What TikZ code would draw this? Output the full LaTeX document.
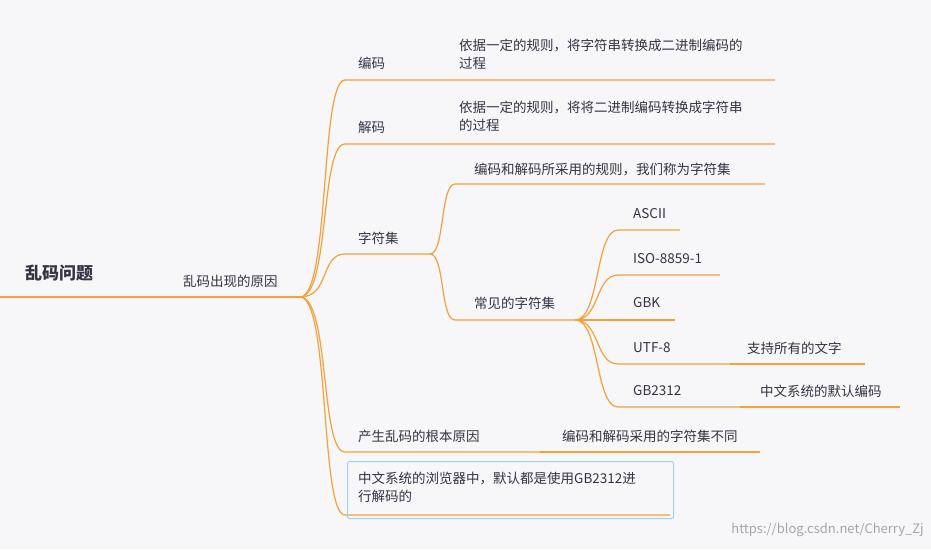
\documentclass[tikz,border=0pt]{standalone}
\usepackage{fontspec}
\setmainfont{Noto Sans CJK SC}
\definecolor{bg}{HTML}{F7F7F9}
\definecolor{br}{HTML}{F5A03A}
\definecolor{tx}{HTML}{333344}
\definecolor{bx}{HTML}{9ED4F0}
\begin{document}
\begin{tikzpicture}[x=1pt,y=-1pt,
  br/.style={draw=br,line width=1.2pt},
  lbl/.style={anchor=west,inner sep=0pt,text=tx,font=\fontsize{13.5}{18}\selectfont,align=left}]
\fill[bg] (0,0) rectangle (931,549);
\useasboundingbox (0,0) rectangle (931,549);
% root
\node[lbl,font=\fontsize{17}{20}\bfseries] (root) at (25,273) {乱码问题};
\node[lbl] (why) at (183,281) {乱码出现的原因};
\coordinate (r0) at (0,297);
\coordinate (p) at (300,297);
\draw[br] (r0) -- (p);
% level 1
\foreach \n/\y/\e in {a/80/775,b/144/775,c/254/430,d/452/540,e/515/670}{
  \coordinate (\n s) at (345,\y);
  \coordinate (\n e) at (\e,\y);
  \draw[br] (p) .. controls (330,297) and (320,\y) .. (\n s) -- (\n e);
}
\node[lbl] (ta) at (358,63) {编码};
\node[lbl] (da) at (459,54) {依据一定的规则，将字符串转换成二进制编码的\\过程};
\node[lbl] (tb) at (358,127) {解码};
\node[lbl] (db) at (459,116) {依据一定的规则，将将二进制编码转换成字符串\\的过程};
\node[lbl] (tc) at (358,238) {字符集};
\node[lbl] (td) at (358,436) {产生乱码的根本原因};
\coordinate (d2) at (760,452);
\draw[br] (de) -- (d2);
\node[lbl] (dd) at (562,436) {编码和解码采用的字符集不同};
\node[draw=bx,line width=1pt,rounded corners=2pt,minimum width=326pt,minimum height=57pt,anchor=north west] (box) at (347,461) {};
\node[lbl] (te) at (358,487) {中文系统的浏览器中，默认都是使用GB2312进\\行解码的};
% level 2 under 字符集
\coordinate (c1s) at (455,184); \coordinate (c1e) at (765,184);
\coordinate (c2s) at (455,320); \coordinate (c2e) at (575,320);
\draw[br] (ce) .. controls (445,254) and (440,184) .. (c1s) -- (c1e);
\draw[br] (ce) .. controls (445,254) and (440,320) .. (c2s) -- (c2e);
\node[lbl] (t1) at (474,170) {编码和解码所采用的规则，我们称为字符集};
\node[lbl] (t2) at (474,303) {常见的字符集};
% level 3
\foreach \n/\y/\e in {f/230/680,g/275/720,h/320/675,i/364/730,j/407/740}{
  \coordinate (\n s) at (618,\y);
  \coordinate (\n e) at (\e,\y);
  \draw[br] (c2e) .. controls (600,320) and (595,\y) .. (\n s) -- (\n e);
}
\node[lbl] (tf) at (633,214) {ASCII};
\node[lbl] (tg) at (633,259) {ISO-8859-1};
\node[lbl] (th) at (633,303) {GBK};
\node[lbl] (ti) at (633,348) {UTF-8};
\node[lbl] (tj) at (633,391) {GB2312};
\coordinate (i2) at (865,364); \coordinate (j2) at (900,407);
\draw[br] (ie) -- (i2);
\draw[br] (je) -- (j2);
\node[lbl] (ui) at (747,348) {支持所有的文字};
\node[lbl] (uj) at (760,391) {中文系统的默认编码};
\node[anchor=east,inner sep=0pt,text=black!35,font=\fontsize{13}{15}\selectfont] (wm) at (924,530) {https://blog.csdn.net/Cherry\_Zj};
\end{tikzpicture}
\end{document}
